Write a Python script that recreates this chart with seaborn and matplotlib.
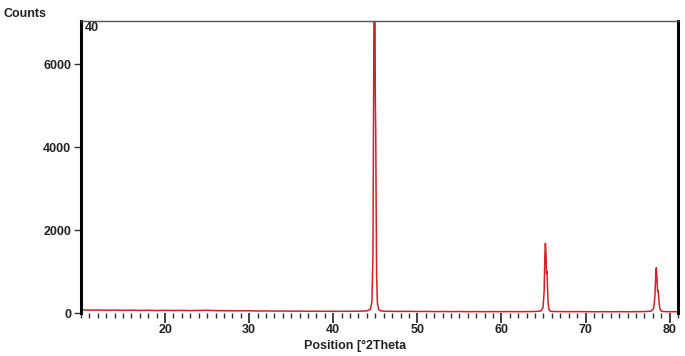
import numpy as np
import pandas as pd
import matplotlib
matplotlib.use("Agg")
import matplotlib.pyplot as plt
import seaborn as sns
from matplotlib.ticker import MultipleLocator

# --- data (2Theta, counts) ---
two_theta = [10.0, 11.0, 12.0, 13.0, 14.0, 15.0, 16.0, 17.0, 18.0, 19.0,
             20.0, 21.0, 22.0, 23.0, 24.0, 25.0, 26.0, 27.0, 28.0, 29.0,
             30.0, 31.0, 32.0, 33.0, 34.0, 35.0, 36.0, 37.0, 38.0, 39.0,
             40.0, 41.0, 42.0, 43.0, 44.0, 44.4, 44.6, 44.72, 44.8, 44.86,
             44.9, 44.95, 45.0, 45.05, 45.1, 45.16, 45.25, 45.4, 45.6, 46.0,
             47.0, 48.0, 49.0, 50.0, 51.0, 52.0, 53.0, 54.0, 55.0, 56.0,
             57.0, 58.0, 59.0, 60.0, 61.0, 62.0, 63.0, 64.0, 64.7, 64.95,
             65.08, 65.16, 65.23, 65.3, 65.36, 65.42, 65.48, 65.55, 65.65, 65.8,
             66.1, 67.0, 68.0, 69.0, 70.0, 71.0, 72.0, 73.0, 74.0, 75.0,
             76.0, 77.0, 77.8, 78.1, 78.25, 78.35, 78.42, 78.5, 78.57, 78.64,
             78.72, 78.82, 78.95, 79.2, 79.6, 80.0, 80.5, 81.0]
counts = [75, 70, 72, 66, 70, 64, 68, 62, 66, 60,
          64, 60, 63, 58, 62, 66, 58, 56, 54, 52,
          54, 48, 50, 46, 48, 44, 46, 42, 44, 40,
          42, 40, 42, 44, 50, 90, 260, 1400, 5200, 8600,
          9400, 8200, 5200, 4400, 2600, 900, 250, 90, 55, 42,
          40, 38, 40, 36, 38, 34, 36, 34, 36, 32,
          34, 32, 34, 32, 34, 32, 34, 36, 50, 130,
          520, 1350, 1680, 1450, 950, 1000, 620, 240, 90, 45,
          36, 34, 32, 34, 32, 30, 32, 30, 32, 30,
          32, 34, 45, 110, 380, 900, 1090, 820, 520, 540,
          330, 130, 55, 36, 32, 30, 32, 30]
x_ticks = [20, 30, 40, 50, 60, 70, 80]
y_ticks = [0, 2000, 4000, 6000]

df = pd.DataFrame({"two_theta": two_theta, "counts": counts})

sns.set_style("white")
plt.rcParams["font.family"] = ["Liberation Sans", "DejaVu Sans"]

fig = plt.figure(figsize=(6.85, 3.56), dpi=100)
ax = fig.add_axes([81 / 685, 43 / 356, (678 - 81) / 685, (313 - 21) / 356])

sns.lineplot(data=df, x="two_theta", y="counts", ax=ax, color="#d61f26",
             linewidth=1.1, estimator=None, sort=False, legend=False)

ax.set_xlim(10, 81)
ax.set_ylim(0, 7040)
ax.set_xticks(x_ticks)
ax.xaxis.set_minor_locator(MultipleLocator(1))
ax.set_yticks(y_ticks)

ax.tick_params(axis="x", which="major", direction="out", length=7, width=1.3,
               color="#333333", labelsize=9, pad=1, bottom=True)
ax.tick_params(axis="x", which="minor", direction="out", length=3.5, width=1.0,
               color="#333333", bottom=True)
ax.tick_params(axis="y", which="major", direction="out", length=5, width=1.0,
               color="#333333", labelsize=9, pad=2, left=True)
for lab in ax.get_xticklabels() + ax.get_yticklabels():
    lab.set_fontweight("bold")
    lab.set_color("#222222")

ax.set_xlabel("")
ax.set_ylabel("")

for side in ["left", "right"]:
    ax.spines[side].set_linewidth(2.2)
    ax.spines[side].set_color("black")
ax.spines["top"].set_linewidth(1.0)
ax.spines["top"].set_color("#555555")
ax.spines["bottom"].set_visible(False)

ax.text(0.006, 0.995, "40", transform=ax.transAxes, ha="left", va="top",
        fontsize=9, fontweight="bold", color="#222222")

fig.text(47 / 685, 1 - 14 / 356, "Counts", ha="right", va="center",
         fontsize=9, fontweight="bold", color="#222222")
fig.text(355 / 685, 1 - 346 / 356, "Position [°2Theta", ha="center",
         va="center", fontsize=9, fontweight="bold", color="#222222")

fig.savefig("out.png", dpi=100)
